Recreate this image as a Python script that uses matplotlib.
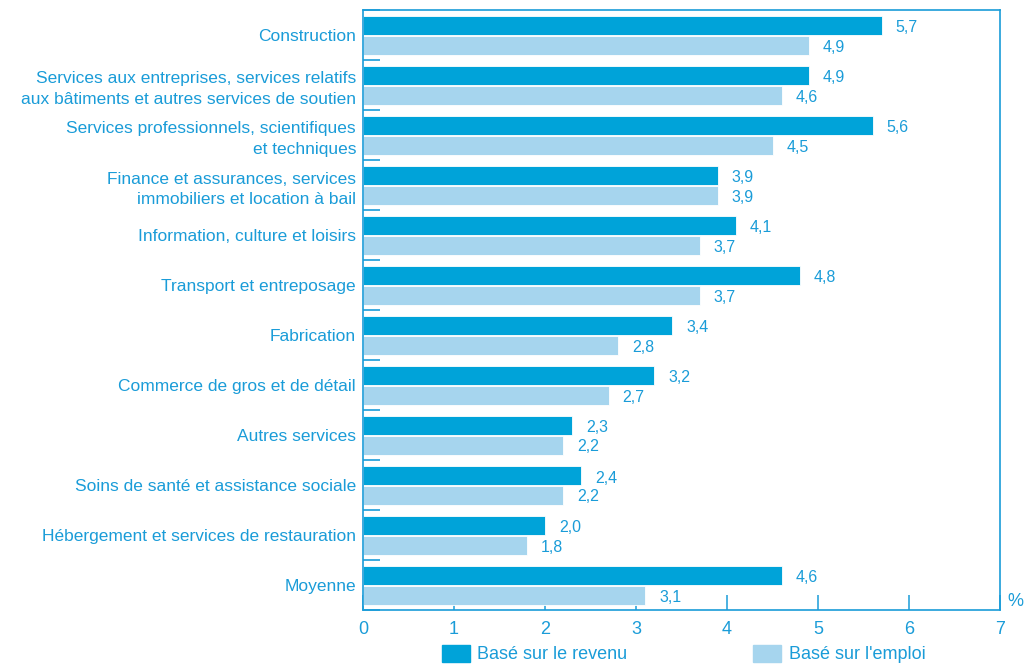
import matplotlib
matplotlib.use('Agg')
import matplotlib.pyplot as plt
import matplotlib.patches as mpatches
import numpy as np

plt.rcParams['font.family'] = ['Liberation Sans', 'DejaVu Sans']

categories = [
    'Construction',
    'Services aux entreprises, services relatifs\naux bâtiments et autres services de soutien',
    'Services professionnels, scientifiques\net techniques',
    'Finance et assurances, services\nimmobiliers et location à bail',
    'Information, culture et loisirs',
    'Transport et entreposage',
    'Fabrication',
    'Commerce de gros et de détail',
    'Autres services',
    'Soins de santé et assistance sociale',
    'Hébergement et services de restauration',
    'Moyenne',
]
revenu = [5.7, 4.9, 5.6, 3.9, 4.1, 4.8, 3.4, 3.2, 2.3, 2.4, 2.0, 4.6]
emploi = [4.9, 4.6, 4.5, 3.9, 3.7, 3.7, 2.8, 2.7, 2.2, 2.2, 1.8, 3.1]
x_ticks = [0, 1, 2, 3, 4, 5, 6, 7]

dark = '#00a3d9'
light = '#a6d5ee'
txt = '#1a9cd8'

fig = plt.figure(figsize=(10.25, 6.65), dpi=100)
ax = fig.add_axes([363 / 1025, 1 - 610 / 665, 637 / 1025, 600 / 665])
ax.set_axisbelow(True)

y = np.arange(len(categories))
h = 0.39
ax.barh(y - 0.2 + 0.01, revenu, height=h, color=dark, edgecolor='white', linewidth=0.6, zorder=3)
ax.barh(y + 0.2 + 0.01, emploi, height=h, color=light, edgecolor='white', linewidth=0.6, zorder=3)

for i in range(len(categories)):
    ax.annotate(f'{revenu[i]:.1f}'.replace('.', ','), (revenu[i], y[i] - 0.2),
                xytext=(14, -3), textcoords='offset pixels',
                va='center', ha='left', color=txt, fontsize=11.5)
    ax.annotate(f'{emploi[i]:.1f}'.replace('.', ','), (emploi[i], y[i] + 0.2),
                xytext=(14, -2), textcoords='offset pixels',
                va='center', ha='left', color=txt, fontsize=11.5)

ax.set_xlim(0, 7)
ax.set_ylim(len(categories) - 0.5, -0.5)
ax.set_xticks(x_ticks)
ax.set_xticklabels([str(t) for t in x_ticks], fontsize=13, color=txt)
ax.set_yticks(y)
ax.set_yticklabels(categories, fontsize=12.5, color=txt, linespacing=1.45)
ax.tick_params(axis='y', length=0, pad=5)
ax.tick_params(axis='x', direction='in', length=11, width=1.1, color=txt, pad=8)

# small boundary ticks between categories
ax.set_yticks(np.arange(-0.5, len(categories), 1), minor=True)
ax.tick_params(axis='y', which='minor', direction='in', length=12, width=1.2, color=txt)

for s in ax.spines.values():
    s.set_color(txt)
    s.set_linewidth(1.2)
    s.set_zorder(4)

ax.text(1.012, 0.0, '%', transform=ax.transAxes, fontsize=13, color=txt,
        ha='left', va='bottom')

handles = [mpatches.Patch(color=dark, label='Basé sur le revenu'),
           mpatches.Patch(color=light, label="Basé sur l'emploi")]
fig.legend(handles=handles, loc='center', bbox_to_anchor=(683.5 / 1025, 1 - 654 / 665),
           ncol=2, frameon=False, fontsize=13, labelcolor=txt, borderaxespad=0, borderpad=0,
           handlelength=1.55, handleheight=1.1, handletextpad=0.4, columnspacing=7)

fig.savefig('out.png', dpi=100)
